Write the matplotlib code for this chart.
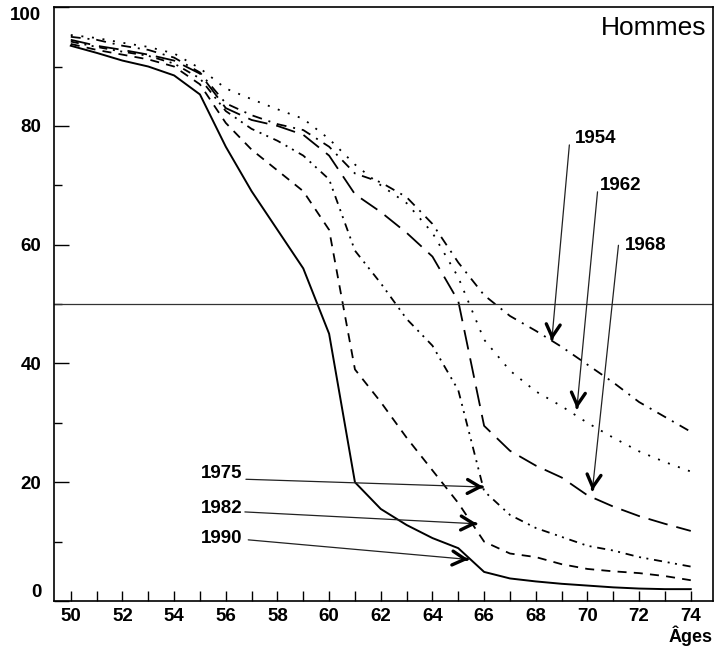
import numpy as np
import matplotlib.pyplot as plt
from matplotlib.ticker import MultipleLocator

plt.rcParams['font.family'] = ['Liberation Sans', 'DejaVu Sans']

# Âges 50 à 74 ans
ages = np.arange(50, 75)

# pourcentages, par génération
h1954 = [95.0, 94.5, 93.5, 92.8, 91.5, 89.0, 83.8, 81.8, 80.3, 79.3, 76.5, 72.0, 70.5,
         68.0, 63.5, 57.0, 51.5, 48.0, 45.5, 42.8, 39.8, 36.8, 33.5, 31.0, 28.5]
h1962 = [95.3, 94.8, 94.0, 93.3, 92.2, 89.7, 86.3, 84.5, 82.8, 81.2, 77.8, 73.5, 70.0,
         67.0, 62.0, 54.5, 44.0, 38.8, 35.3, 32.8, 30.0, 27.5, 25.2, 23.4, 21.8]
h1968 = [94.5, 93.5, 92.8, 92.0, 91.0, 88.8, 83.0, 81.0, 80.0, 78.5, 75.0, 68.5, 65.5,
         62.0, 58.0, 50.5, 29.5, 25.3, 22.8, 20.8, 17.8, 15.9, 14.3, 13.0, 11.8]
h1975 = [94.2, 93.3, 92.5, 91.8, 90.5, 88.0, 82.5, 79.5, 77.5, 75.0, 71.0, 59.0, 53.5,
         47.5, 43.0, 35.5, 18.5, 14.5, 12.3, 10.8, 9.3, 8.5, 7.4, 6.6, 5.8]
h1982 = [93.8, 92.8, 92.0, 91.2, 90.0, 87.0, 80.5, 76.0, 72.5, 69.0, 62.5, 39.0, 33.5,
         27.5, 22.0, 16.5, 10.0, 8.0, 7.4, 6.2, 5.4, 5.0, 4.7, 4.2, 3.5]
h1990 = [93.5, 92.3, 91.0, 90.0, 88.5, 85.3, 76.5, 69.0, 62.5, 56.0, 45.0, 20.0, 15.5,
         12.8, 10.6, 8.9, 4.9, 3.8, 3.3, 2.9, 2.6, 2.3, 2.1, 2.0, 2.0]

annees = ['1954', '1962', '1968', '1975', '1982', '1990']
series = [h1954, h1962, h1968, h1975, h1982, h1990]
traits = [(5.5, 3.8, 1.1, 3.8),
          (1.1, 4.8),
          (11, 5),
          (4.5, 3.2, 1.1, 3.0, 1.1, 3.2),
          (5, 4),
          None]

# étiquettes : position du texte, début du trait, pointe de la flèche
texte_xy = [(69.52, 77.1), (70.5, 69.2), (71.46, 59.1),
            (56.64, 20.7), (56.64, 14.8), (56.64, 9.8)]
texte_ha = ['left', 'left', 'left', 'right', 'right', 'right']
debut = [(69.30, 76.8), (70.39, 68.9), (71.20, 59.9),
         (56.78, 20.5), (56.74, 15.0), (56.87, 10.3)]
pointe = [(68.62, 43.9), (69.59, 32.4), (70.19, 18.6),
          (65.97, 19.2), (65.72, 13.0), (65.39, 7.0)]

fig = plt.figure(figsize=(7.15, 6.48), dpi=100)
ax = fig.add_axes([0.0755, 0.0725, 0.9217, 0.9165])

for y, d in zip(series, traits):
    if d is None:
        ax.plot(ages, y, color='black', lw=1.4, solid_joinstyle='round')
    else:
        ax.plot(ages, y, color='black', lw=1.3, dashes=d, dash_capstyle='butt')

ax.axhline(50, color='#333333', lw=0.9)

ax.set_xlim(49.35, 74.86)
ax.set_ylim(0, 100)
ax.set_xticks(np.arange(50, 75, 2))
ax.xaxis.set_minor_locator(MultipleLocator(1))
ax.set_yticks(np.arange(0, 101, 20))
ax.yaxis.set_minor_locator(MultipleLocator(10))
ax.tick_params(axis='both', which='both', direction='in', top=False, right=False,
               width=1.0, labelsize=13.5)
ax.tick_params(axis='y', which='major', length=10.8, pad=9)
ax.tick_params(axis='y', which='minor', length=5.8)
ax.tick_params(axis='x', which='both', length=7.2, pad=5)
for lab in ax.get_xticklabels() + ax.get_yticklabels():
    lab.set_fontweight('bold')
ylabs = ax.get_yticklabels()
ylabs[0].set_va('bottom')
ylabs[-1].set_va('top')
for s in ax.spines.values():
    s.set_linewidth(1.2)

ax.text(0.99, 0.985, 'Hommes', transform=ax.transAxes, ha='right', va='top',
        fontsize=19)
ax.text(1.0, -0.058, 'Âges', transform=ax.transAxes, ha='right', va='center',
        fontsize=13, fontweight='bold')

fig.canvas.draw()
for an, (tx, ty), ha, p0, p1 in zip(annees, texte_xy, texte_ha, debut, pointe):
    ax.text(tx, ty, an, ha=ha, va='baseline', fontsize=13.5, fontweight='bold')
    ax.annotate('', xy=p1, xytext=p0,
                arrowprops=dict(arrowstyle='-', lw=0.9, color='#222222',
                                shrinkA=0, shrinkB=0))
    a = ax.transData.transform(p0)
    b = ax.transData.transform(p1)
    u = (b - a) / np.hypot(*(b - a))
    ax.annotate('', xy=p1, xytext=(-u[0] * 1.0, -u[1] * 1.0), textcoords='offset points',
                arrowprops=dict(arrowstyle='->,head_length=0.9,head_width=0.5',
                                lw=2.4, color='black', mutation_scale=10,
                                shrinkA=0, shrinkB=0))

fig.savefig('out.png', dpi=100)
